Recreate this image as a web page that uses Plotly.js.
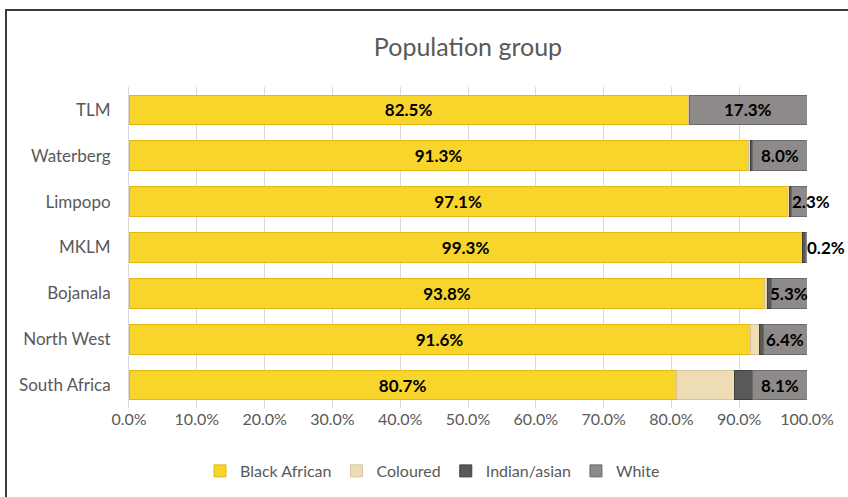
<!DOCTYPE html>
<html>
<head>
<meta charset="utf-8">
<script src="https://cdn.plot.ly/plotly-3.0.1.min.js"></script>
<style>
  html, body { margin: 0; padding: 0; background: #fff; overflow: hidden; }
  #wrap { position: relative; width: 848px; height: 497px; }
  #chart { width: 848px; height: 497px; }
  #frame { position: absolute; left: 5px; top: 9px; width: 900px; height: 600px;
           border-top: 2px solid #3a3a3a; border-left: 2px solid #3a3a3a; pointer-events: none; }
</style>
</head>
<body>
<div id="wrap">
  <div id="chart"></div>
  <div id="frame"></div>
</div>
<script>
const categories = ["South Africa", "North West", "Bojanala", "MKLM", "Limpopo", "Waterberg", "TLM"];
const blackAfrican = [80.7, 91.6, 93.8, 99.3, 97.1, 91.3, 82.5];
const coloured     = [8.6, 1.4, 0.4, 0.1, 0.3, 0.3, 0.1];
const indianAsian  = [2.6, 0.6, 0.5, 0.4, 0.3, 0.4, 0.1];
const white        = [8.1, 6.4, 5.3, 0.2, 2.3, 8.0, 17.3];
const xTicks = [0, 10, 20, 30, 40, 50, 60, 70, 80, 90, 100];

const fontFam = "Lato, 'Open Sans', sans-serif";
const labelFont = {family: fontFam, size: 17, color: "#000000", weight: "bold"};

function fmt(v) { return v.toFixed(1) + "%"; }

const traces = [
  {
    name: "Black African", type: "bar", orientation: "h",
    y: categories, x: blackAfrican,
    text: blackAfrican.map(fmt), textposition: "inside", insidetextanchor: "middle",
    textfont: labelFont, constraintext: "none", textangle: 0,
    marker: {color: "#F8D52A", line: {color: "#E2B70E", width: 1}},
    hoverinfo: "name+x"
  },
  {
    name: "Coloured", type: "bar", orientation: "h",
    y: categories, x: coloured,
    marker: {color: "#EEDDB4", line: {color: "#D8C49A", width: 1}},
    hoverinfo: "name+x"
  },
  {
    name: "Indian/asian", type: "bar", orientation: "h",
    y: categories, x: indianAsian,
    marker: {color: "#595959", line: {color: "#404040", width: 1}},
    hoverinfo: "name+x"
  },
  {
    name: "White", type: "bar", orientation: "h",
    y: categories, x: white,
    marker: {color: "#8E8A8A", line: {color: "#6E6A6A", width: 1}},
    hoverinfo: "name+x"
  }
];

// White labels: centred in the segment, or starting at the segment when it is too narrow
const whiteLabels = categories.map((c, i) => {
  const start = blackAfrican[i] + coloured[i] + indianAsian[i];
  const fits = white[i] >= 4;
  return {
    x: fits ? start + white[i] / 2 : start,
    y: c, xref: "x", yref: "y",
    text: fmt(white[i]),
    showarrow: false,
    xanchor: fits ? "center" : "left",
    yanchor: "middle",
    xshift: fits ? 0 : -1,
    font: labelFont
  };
});

const layout = {
  width: 848, height: 497,
  margin: {l: 129, r: 41, t: 87, b: 89},
  barmode: "stack",
  bargap: 0.35,
  paper_bgcolor: "#ffffff",
  plot_bgcolor: "#ffffff",
  font: {family: fontFam, size: 16, color: "#595959"},
  uniformtext: {minsize: 17, mode: "show"},
  title: {
    text: "Population group",
    font: {family: fontFam, size: 25, color: "#595959"},
    x: 0.5, xref: "paper", y: 1 - 47/497, yref: "container", yanchor: "middle"
  },
  xaxis: {
    range: [0, 100],
    tickvals: xTicks,
    ticktext: xTicks.map(fmt),
    showgrid: true, gridcolor: "#D9D9D9", gridwidth: 1,
    zeroline: false, showline: false,
    ticks: "", ticklen: 0,
    tickfont: {family: fontFam, size: 16, color: "#595959"},
    fixedrange: true
  },
  yaxis: {
    categoryorder: "array", categoryarray: categories,
    showgrid: false, zeroline: false,
    showline: true, linecolor: "#D9D9D9", linewidth: 1,
    ticks: "", ticklen: 0, ticklabelstandoff: 14,
    tickfont: {family: fontFam, size: 17, color: "#595959"},
    fixedrange: true
  },
  legend: {
    orientation: "h", x: 0.51, xref: "container", xanchor: "center",
    y: 1 - 471/497, yref: "container", yanchor: "middle",
    font: {family: fontFam, size: 16, color: "#595959"},
    traceorder: "normal"
  },
  annotations: whiteLabels,
  showlegend: true
};

Plotly.newPlot("chart", traces, layout, {displayModeBar: false, staticPlot: true});
</script>
</body>
</html>
